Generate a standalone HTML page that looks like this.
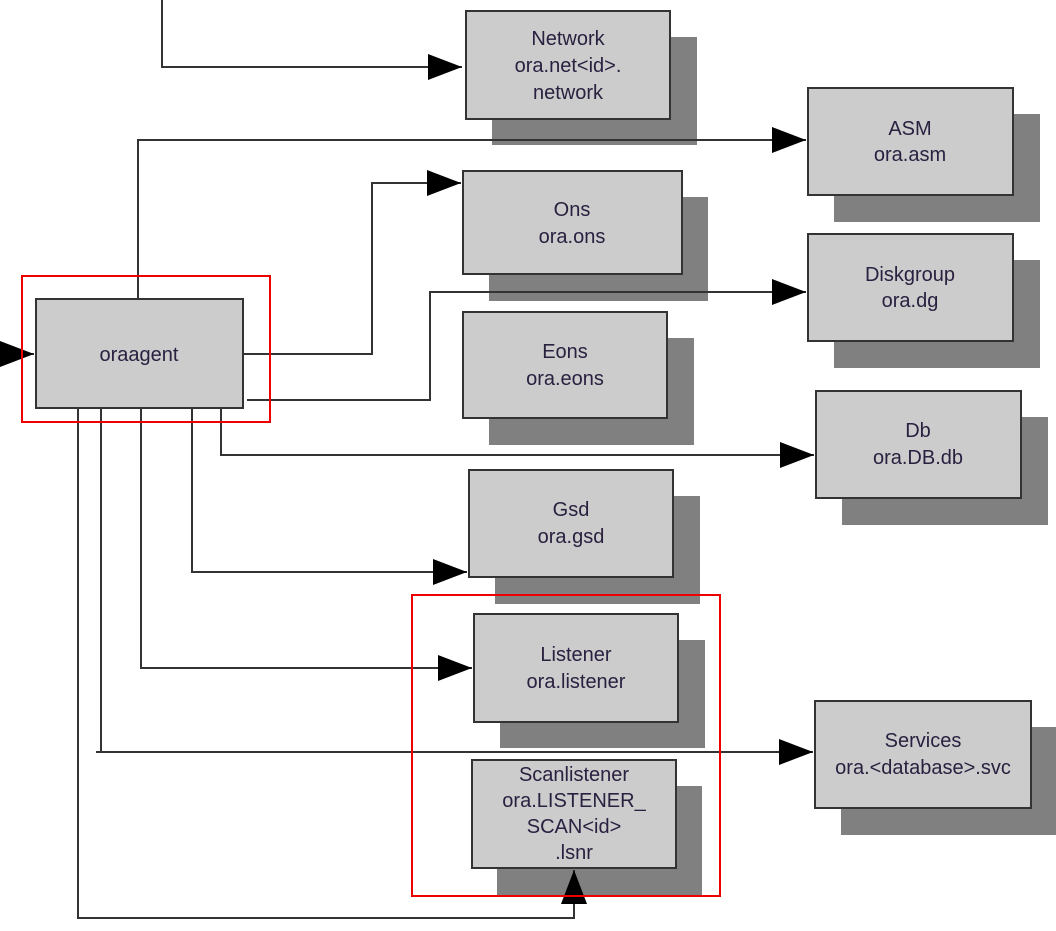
<!DOCTYPE html>
<html><head><meta charset="utf-8"><style>
html,body{margin:0;padding:0;background:#fff;}
svg text{font-family:"Liberation Sans",sans-serif;font-size:20px;fill:#2a2040;text-anchor:middle;}
</style></head><body>
<svg width="1056" height="926" viewBox="0 0 1056 926" xmlns="http://www.w3.org/2000/svg">
<defs>
<marker id="a" markerWidth="34" markerHeight="26" refX="34" refY="13" orient="auto" markerUnits="userSpaceOnUse">
<path d="M0,0 L34,13 L0,26 Z" fill="#000"/></marker>
</defs>
<g fill="#808080">
<rect x="492" y="37" width="205" height="108"/>
<rect x="834" y="114" width="206" height="108"/>
<rect x="489" y="197" width="219" height="104"/>
<rect x="834" y="260" width="206" height="108"/>
<rect x="489" y="338" width="205" height="107"/>
<rect x="842" y="417" width="206" height="108"/>
<rect x="495" y="496" width="205" height="108"/>
<rect x="500" y="640" width="205" height="108"/>
<rect x="497" y="786" width="205" height="109"/>
<rect x="841" y="727" width="215" height="108"/>
</g>
<g fill="#cccccc" stroke="#333" stroke-width="2">
<rect x="466" y="11" width="204" height="108"/>
<rect x="808" y="88" width="205" height="107"/>
<rect x="463" y="171" width="219" height="103"/>
<rect x="808" y="234" width="205" height="107"/>
<rect x="463" y="312" width="204" height="106"/>
<rect x="816" y="391" width="205" height="107"/>
<rect x="469" y="470" width="204" height="107"/>
<rect x="474" y="614" width="204" height="108"/>
<rect x="472" y="760" width="204" height="108"/>
<rect x="815" y="701" width="216" height="107"/>
<rect x="36" y="299" width="207" height="109"/>
</g>
<g fill="none" stroke="#333" stroke-width="2">
<polyline points="162,0 162,67 462,67" marker-end="url(#a)"/>
<polyline points="138,299 138,140 806,140" marker-end="url(#a)"/>
<polyline points="243,354 372,354 372,183 461,183" marker-end="url(#a)"/>
<polyline points="247,400 430,400 430,292 806,292" marker-end="url(#a)"/>
<polyline points="221,408 221,455 814,455" marker-end="url(#a)"/>
<polyline points="192,408 192,572 467,572" marker-end="url(#a)"/>
<polyline points="141,408 141,668 472,668" marker-end="url(#a)"/>
<polyline points="101,408 101,752"/>
<polyline points="96,752 813,752" marker-end="url(#a)"/>
<polyline points="78,408 78,918 574,918 574,870" marker-end="url(#a)"/>
<polyline points="0,354 34,354" marker-end="url(#a)"/>
</g>
<g fill="none" stroke="#e00" stroke-width="2">
<rect x="22" y="276" width="248" height="146"/>
<rect x="412" y="595" width="308" height="301"/>
</g>
<text x="568" y="45">Network</text><text x="568" y="72">ora.net&lt;id&gt;.</text><text x="568" y="99">network</text>
<text x="910" y="135">ASM</text><text x="910" y="161">ora.asm</text>
<text x="572" y="216">Ons</text><text x="572" y="243">ora.ons</text>
<text x="910" y="281">Diskgroup</text><text x="910" y="307">ora.dg</text>
<text x="565" y="358">Eons</text><text x="565" y="385">ora.eons</text>
<text x="918" y="437">Db</text><text x="918" y="464">ora.DB.db</text>
<text x="571" y="516">Gsd</text><text x="571" y="543">ora.gsd</text>
<text x="576" y="661">Listener</text><text x="576" y="688">ora.listener</text>
<text x="574" y="781">Scanlistener</text><text x="574" y="807">ora.LISTENER_</text><text x="574" y="833">SCAN&lt;id&gt;</text><text x="574" y="859">.lsnr</text>
<text x="923" y="747">Services</text><text x="923" y="774">ora.&lt;database&gt;.svc</text>
<text x="139" y="361">oraagent</text>
</svg>
</body></html>
